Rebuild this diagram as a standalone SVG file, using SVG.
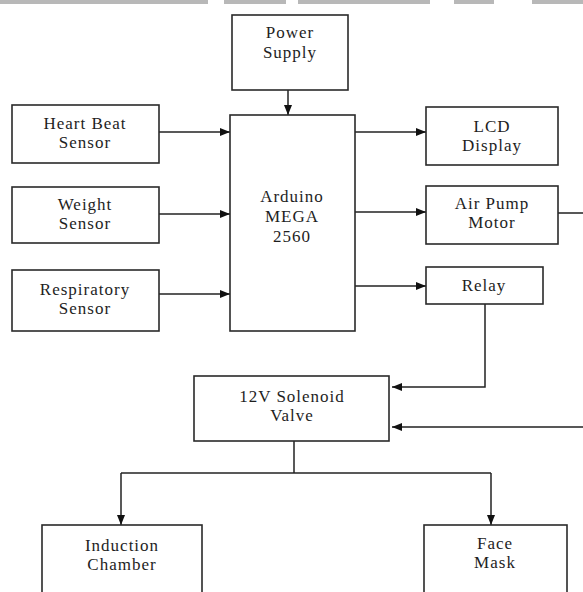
<svg xmlns="http://www.w3.org/2000/svg" width="583" height="592" viewBox="0 0 583 592">
<defs>
<marker id="ah" markerWidth="10" markerHeight="8" refX="10" refY="4" orient="auto" markerUnits="userSpaceOnUse">
<path d="M0,0 L10,4 L0,8 Z" fill="#111"/>
</marker>
<style>
.box{fill:#fff;stroke:#2a2a2a;stroke-width:1.6}
.t{font-family:"Liberation Serif","Times New Roman",serif;font-size:17px;fill:#1e1e1e;text-anchor:middle;letter-spacing:1px}
.c{fill:none;stroke:#222;stroke-width:1.5}
.band{fill:#b8b8b8}
</style>
</defs>
<rect width="583" height="592" fill="#fff"/>
<g id="topband">
<rect class="band" x="0" y="0" width="208" height="4"/>
<rect class="band" x="224" y="0" width="62" height="4"/>
<rect class="band" x="298" y="0" width="132" height="4"/>
<rect class="band" x="454" y="0" width="40" height="4"/>
<rect class="band" x="532" y="0" width="51" height="4"/>
</g>
<g id="connectors">
<path class="c" d="M288,90 V115" marker-end="url(#ah)"/>
<path class="c" d="M159,132 H230" marker-end="url(#ah)"/>
<path class="c" d="M159,214 H230" marker-end="url(#ah)"/>
<path class="c" d="M159,294 H230" marker-end="url(#ah)"/>
<path class="c" d="M355,132 H426" marker-end="url(#ah)"/>
<path class="c" d="M355,212 H426" marker-end="url(#ah)"/>
<path class="c" d="M355,286 H426" marker-end="url(#ah)"/>
<path class="c" d="M485,304 V387 H392" marker-end="url(#ah)"/>
<path class="c" d="M558,213 H592 V427 H392" marker-end="url(#ah)"/>
<path class="c" d="M294,441 V473"/>
<path class="c" d="M121,473 H491"/>
<path class="c" d="M121,473 V525" marker-end="url(#ah)"/>
<path class="c" d="M491,473 V525" marker-end="url(#ah)"/>
</g>
<g id="power">
<rect class="box" x="232" y="15" width="116" height="75"/>
<text class="t" x="290" y="38">Power</text>
<text class="t" x="290" y="58">Supply</text>
</g>
<g id="heartbeat">
<rect class="box" x="12" y="105" width="147" height="58"/>
<text class="t" x="85" y="129">Heart Beat</text>
<text class="t" x="85" y="148">Sensor</text>
</g>
<g id="weight">
<rect class="box" x="12" y="187" width="147" height="56"/>
<text class="t" x="85" y="210">Weight</text>
<text class="t" x="85" y="229">Sensor</text>
</g>
<g id="respiratory">
<rect class="box" x="12" y="270" width="147" height="61"/>
<text class="t" x="85" y="295">Respiratory</text>
<text class="t" x="85" y="314">Sensor</text>
</g>
<g id="arduino">
<rect class="box" x="230" y="115" width="125" height="216"/>
<text class="t" x="292" y="202">Arduino</text>
<text class="t" x="292" y="222">MEGA</text>
<text class="t" x="292" y="242">2560</text>
</g>
<g id="lcd">
<rect class="box" x="426" y="107" width="132" height="58"/>
<text class="t" x="492" y="132">LCD</text>
<text class="t" x="492" y="151">Display</text>
</g>
<g id="airpump">
<rect class="box" x="426" y="186" width="132" height="58"/>
<text class="t" x="492" y="209">Air Pump</text>
<text class="t" x="492" y="228">Motor</text>
</g>
<g id="relay">
<rect class="box" x="426" y="267" width="117" height="37"/>
<text class="t" x="484" y="291">Relay</text>
</g>
<g id="solenoid">
<rect class="box" x="194" y="376" width="195" height="65"/>
<text class="t" x="292" y="402">12V Solenoid</text>
<text class="t" x="292" y="421">Valve</text>
</g>
<g id="induction">
<rect class="box" x="42" y="525" width="160" height="80"/>
<text class="t" x="122" y="551">Induction</text>
<text class="t" x="122" y="570">Chamber</text>
</g>
<g id="facemask">
<rect class="box" x="424" y="525" width="143" height="80"/>
<text class="t" x="495" y="549">Face</text>
<text class="t" x="495" y="568">Mask</text>
</g>
</svg>
